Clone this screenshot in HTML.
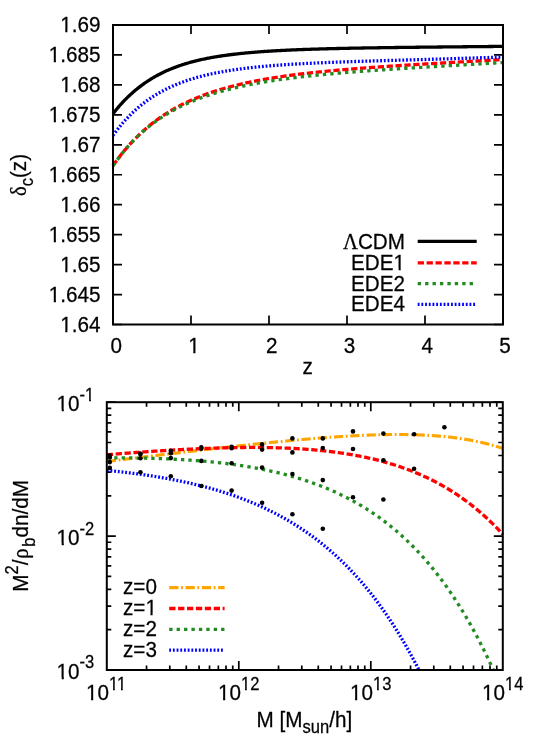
<!DOCTYPE html>
<html><head><meta charset="utf-8"><title>plot</title>
<style>
html,body{margin:0;padding:0;background:#fff;overflow:hidden;}
svg{display:block;will-change:transform;}
text{font-family:"Liberation Sans",sans-serif;font-size:21px;fill:#000;stroke:#000;stroke-width:0.25px;}
.s{font-size:16.8px;}
.sr{font-family:"Liberation Serif",serif;}
.ax{stroke:#000;stroke-width:2;fill:none;stroke-linecap:butt;}
.tk{stroke:#000;stroke-width:1.7;fill:none;}
.ln{fill:none;stroke-width:3.3;stroke-linecap:butt;stroke-linejoin:round;}
</style></head><body>
<svg width="538" height="754" viewBox="0 0 538 754">

<g id="top">
<path class="tk" d="M191.00,324.5v-9.0M191.00,25.0v9.0M269.00,324.5v-9.0M269.00,25.0v9.0M347.00,324.5v-9.0M347.00,25.0v9.0M425.00,324.5v-9.0M425.00,25.0v9.0M113.0,25.00h9.0M503.0,25.00h-9.0M113.0,54.95h9.0M503.0,54.95h-9.0M113.0,84.90h9.0M503.0,84.90h-9.0M113.0,114.85h9.0M503.0,114.85h-9.0M113.0,144.80h9.0M503.0,144.80h-9.0M113.0,174.75h9.0M503.0,174.75h-9.0M113.0,204.70h9.0M503.0,204.70h-9.0M113.0,234.65h9.0M503.0,234.65h-9.0M113.0,264.60h9.0M503.0,264.60h-9.0M113.0,294.55h9.0M503.0,294.55h-9.0M113.0,324.50h9.0M503.0,324.50h-9.0"/>
<path class="ln" stroke="#000" d="M113.00,113.68 L114.00,112.41 L115.00,111.16 L116.00,109.94 L117.00,108.74 L118.00,107.56 L119.00,106.40 L120.00,105.26 L121.00,104.15 L122.00,103.06 L123.00,101.98 L124.00,100.93 L125.00,99.90 L126.00,98.89 L127.00,97.89 L128.00,96.92 L129.00,95.96 L130.00,95.02 L131.00,94.10 L132.00,93.20 L133.00,92.31 L134.00,91.45 L135.00,90.59 L136.00,89.76 L137.00,88.94 L138.00,88.14 L139.00,87.35 L140.00,86.58 L141.00,85.82 L142.00,85.08 L143.00,84.35 L144.00,83.64 L145.00,82.94 L146.00,82.25 L147.00,81.58 L148.00,80.92 L149.00,80.28 L150.00,79.64 L151.00,79.02 L152.00,78.41 L153.00,77.82 L154.00,77.23 L155.00,76.66 L156.00,76.10 L157.00,75.55 L158.00,75.01 L159.00,74.48 L160.00,73.96 L161.00,73.46 L162.00,72.96 L163.00,72.47 L164.00,72.00 L165.00,71.53 L166.00,71.07 L167.00,70.62 L168.00,70.18 L169.00,69.75 L170.00,69.33 L171.00,68.91 L172.00,68.51 L173.00,68.11 L174.00,67.72 L175.00,67.34 L176.00,66.96 L177.00,66.60 L178.00,66.24 L179.00,65.89 L180.00,65.54 L181.00,65.20 L182.00,64.87 L183.00,64.55 L184.00,64.23 L185.00,63.92 L186.00,63.61 L187.00,63.31 L188.00,63.02 L189.00,62.73 L190.00,62.45 L191.00,62.18 L192.00,61.91 L193.00,61.64 L194.00,61.38 L195.00,61.13 L196.00,60.88 L197.00,60.63 L198.00,60.39 L199.00,60.16 L200.00,59.93 L201.00,59.70 L202.00,59.48 L203.00,59.26 L204.00,59.05 L205.00,58.84 L206.00,58.64 L207.00,58.43 L208.00,58.24 L209.00,58.05 L210.00,57.86 L211.00,57.67 L212.00,57.49 L213.00,57.31 L214.00,57.14 L215.00,56.96 L216.00,56.80 L217.00,56.63 L218.00,56.47 L219.00,56.31 L220.00,56.15 L221.00,56.00 L222.00,55.85 L223.00,55.70 L224.00,55.56 L225.00,55.42 L226.00,55.28 L227.00,55.14 L228.00,55.01 L229.00,54.88 L230.00,54.75 L231.00,54.62 L232.00,54.50 L233.00,54.38 L234.00,54.26 L235.00,54.14 L236.00,54.03 L237.00,53.91 L238.00,53.80 L239.00,53.69 L240.00,53.59 L241.00,53.48 L242.00,53.38 L243.00,53.28 L244.00,53.18 L245.00,53.08 L246.00,52.98 L247.00,52.89 L248.00,52.80 L249.00,52.71 L250.00,52.62 L251.00,52.53 L252.00,52.44 L253.00,52.36 L254.00,52.27 L255.00,52.19 L256.00,52.11 L257.00,52.03 L258.00,51.96 L259.00,51.88 L260.00,51.81 L261.00,51.73 L262.00,51.66 L263.00,51.59 L264.00,51.52 L265.00,51.45 L266.00,51.38 L267.00,51.32 L268.00,51.25 L269.00,51.19 L270.00,51.12 L271.00,51.06 L272.00,51.00 L273.00,50.94 L274.00,50.88 L275.00,50.82 L276.00,50.77 L277.00,50.71 L278.00,50.65 L279.00,50.60 L280.00,50.55 L281.00,50.49 L282.00,50.44 L283.00,50.39 L284.00,50.34 L285.00,50.29 L286.00,50.24 L287.00,50.20 L288.00,50.15 L289.00,50.10 L290.00,50.06 L291.00,50.01 L292.00,49.97 L293.00,49.92 L294.00,49.88 L295.00,49.84 L296.00,49.80 L297.00,49.76 L298.00,49.72 L299.00,49.68 L300.00,49.64 L301.00,49.60 L302.00,49.56 L303.00,49.52 L304.00,49.49 L305.00,49.45 L306.00,49.42 L307.00,49.38 L308.00,49.35 L309.00,49.31 L310.00,49.28 L311.00,49.24 L312.00,49.21 L313.00,49.18 L314.00,49.15 L315.00,49.12 L316.00,49.09 L317.00,49.06 L318.00,49.03 L319.00,49.00 L320.00,48.97 L321.00,48.94 L322.00,48.91 L323.00,48.88 L324.00,48.85 L325.00,48.83 L326.00,48.80 L327.00,48.77 L328.00,48.75 L329.00,48.72 L330.00,48.69 L331.00,48.67 L332.00,48.64 L333.00,48.62 L334.00,48.60 L335.00,48.57 L336.00,48.55 L337.00,48.52 L338.00,48.50 L339.00,48.48 L340.00,48.46 L341.00,48.43 L342.00,48.41 L343.00,48.39 L344.00,48.37 L345.00,48.35 L346.00,48.33 L347.00,48.30 L348.00,48.28 L349.00,48.26 L350.00,48.24 L351.00,48.22 L352.00,48.20 L353.00,48.19 L354.00,48.17 L355.00,48.15 L356.00,48.13 L357.00,48.11 L358.00,48.09 L359.00,48.07 L360.00,48.06 L361.00,48.04 L362.00,48.02 L363.00,48.00 L364.00,47.99 L365.00,47.97 L366.00,47.95 L367.00,47.93 L368.00,47.92 L369.00,47.90 L370.00,47.89 L371.00,47.87 L372.00,47.85 L373.00,47.84 L374.00,47.82 L375.00,47.81 L376.00,47.79 L377.00,47.78 L378.00,47.76 L379.00,47.75 L380.00,47.73 L381.00,47.72 L382.00,47.70 L383.00,47.69 L384.00,47.67 L385.00,47.66 L386.00,47.64 L387.00,47.63 L388.00,47.62 L389.00,47.60 L390.00,47.59 L391.00,47.58 L392.00,47.56 L393.00,47.55 L394.00,47.54 L395.00,47.52 L396.00,47.51 L397.00,47.50 L398.00,47.48 L399.00,47.47 L400.00,47.46 L401.00,47.45 L402.00,47.43 L403.00,47.42 L404.00,47.41 L405.00,47.40 L406.00,47.38 L407.00,47.37 L408.00,47.36 L409.00,47.35 L410.00,47.34 L411.00,47.32 L412.00,47.31 L413.00,47.30 L414.00,47.29 L415.00,47.28 L416.00,47.27 L417.00,47.25 L418.00,47.24 L419.00,47.23 L420.00,47.22 L421.00,47.21 L422.00,47.20 L423.00,47.19 L424.00,47.18 L425.00,47.16 L426.00,47.15 L427.00,47.14 L428.00,47.13 L429.00,47.12 L430.00,47.11 L431.00,47.10 L432.00,47.09 L433.00,47.08 L434.00,47.07 L435.00,47.06 L436.00,47.05 L437.00,47.03 L438.00,47.02 L439.00,47.01 L440.00,47.00 L441.00,46.99 L442.00,46.98 L443.00,46.97 L444.00,46.96 L445.00,46.95 L446.00,46.94 L447.00,46.93 L448.00,46.92 L449.00,46.91 L450.00,46.90 L451.00,46.89 L452.00,46.88 L453.00,46.87 L454.00,46.86 L455.00,46.85 L456.00,46.84 L457.00,46.83 L458.00,46.82 L459.00,46.81 L460.00,46.80 L461.00,46.79 L462.00,46.78 L463.00,46.77 L464.00,46.76 L465.00,46.75 L466.00,46.74 L467.00,46.73 L468.00,46.72 L469.00,46.71 L470.00,46.70 L471.00,46.69 L472.00,46.68 L473.00,46.67 L474.00,46.66 L475.00,46.65 L476.00,46.64 L477.00,46.63 L478.00,46.62 L479.00,46.61 L480.00,46.60 L481.00,46.59 L482.00,46.58 L483.00,46.57 L484.00,46.56 L485.00,46.56 L486.00,46.55 L487.00,46.54 L488.00,46.53 L489.00,46.52 L490.00,46.51 L491.00,46.50 L492.00,46.49 L493.00,46.48 L494.00,46.47 L495.00,46.46 L496.00,46.45 L497.00,46.44 L498.00,46.43 L499.00,46.42 L500.00,46.41 L501.00,46.40 L502.00,46.39 L503.00,46.38"/>
<path class="ln" stroke="#ff0000" stroke-dasharray="6.28 2.62" d="M113.00,165.65 L114.00,164.23 L115.00,162.83 L116.00,161.45 L117.00,160.09 L118.00,158.75 L119.00,157.43 L120.00,156.13 L121.00,154.85 L122.00,153.59 L123.00,152.35 L124.00,151.13 L125.00,149.93 L126.00,148.74 L127.00,147.58 L128.00,146.43 L129.00,145.30 L130.00,144.19 L131.00,143.09 L132.00,142.01 L133.00,140.95 L134.00,139.90 L135.00,138.87 L136.00,137.86 L137.00,136.86 L138.00,135.88 L139.00,134.91 L140.00,133.96 L141.00,133.02 L142.00,132.10 L143.00,131.19 L144.00,130.29 L145.00,129.41 L146.00,128.54 L147.00,127.69 L148.00,126.84 L149.00,126.01 L150.00,125.20 L151.00,124.39 L152.00,123.60 L153.00,122.82 L154.00,122.05 L155.00,121.29 L156.00,120.55 L157.00,119.81 L158.00,119.09 L159.00,118.37 L160.00,117.67 L161.00,116.98 L162.00,116.30 L163.00,115.63 L164.00,114.96 L165.00,114.31 L166.00,113.67 L167.00,113.04 L168.00,112.41 L169.00,111.80 L170.00,111.19 L171.00,110.59 L172.00,110.01 L173.00,109.43 L174.00,108.86 L175.00,108.29 L176.00,107.74 L177.00,107.19 L178.00,106.65 L179.00,106.12 L180.00,105.60 L181.00,105.08 L182.00,104.57 L183.00,104.07 L184.00,103.57 L185.00,103.09 L186.00,102.60 L187.00,102.13 L188.00,101.66 L189.00,101.20 L190.00,100.75 L191.00,100.30 L192.00,99.86 L193.00,99.42 L194.00,98.99 L195.00,98.57 L196.00,98.15 L197.00,97.74 L198.00,97.33 L199.00,96.93 L200.00,96.53 L201.00,96.14 L202.00,95.76 L203.00,95.38 L204.00,95.00 L205.00,94.63 L206.00,94.27 L207.00,93.91 L208.00,93.55 L209.00,93.20 L210.00,92.85 L211.00,92.51 L212.00,92.18 L213.00,91.84 L214.00,91.51 L215.00,91.19 L216.00,90.87 L217.00,90.56 L218.00,90.24 L219.00,89.94 L220.00,89.63 L221.00,89.33 L222.00,89.04 L223.00,88.75 L224.00,88.46 L225.00,88.17 L226.00,87.89 L227.00,87.62 L228.00,87.34 L229.00,87.07 L230.00,86.80 L231.00,86.54 L232.00,86.28 L233.00,86.02 L234.00,85.77 L235.00,85.52 L236.00,85.27 L237.00,85.02 L238.00,84.78 L239.00,84.54 L240.00,84.31 L241.00,84.08 L242.00,83.84 L243.00,83.62 L244.00,83.39 L245.00,83.17 L246.00,82.95 L247.00,82.73 L248.00,82.52 L249.00,82.31 L250.00,82.10 L251.00,81.89 L252.00,81.69 L253.00,81.48 L254.00,81.29 L255.00,81.09 L256.00,80.89 L257.00,80.70 L258.00,80.51 L259.00,80.32 L260.00,80.13 L261.00,79.95 L262.00,79.77 L263.00,79.59 L264.00,79.41 L265.00,79.23 L266.00,79.06 L267.00,78.89 L268.00,78.71 L269.00,78.55 L270.00,78.38 L271.00,78.21 L272.00,78.05 L273.00,77.89 L274.00,77.73 L275.00,77.57 L276.00,77.42 L277.00,77.26 L278.00,77.11 L279.00,76.96 L280.00,76.81 L281.00,76.66 L282.00,76.51 L283.00,76.37 L284.00,76.22 L285.00,76.08 L286.00,75.94 L287.00,75.80 L288.00,75.66 L289.00,75.52 L290.00,75.39 L291.00,75.26 L292.00,75.12 L293.00,74.99 L294.00,74.86 L295.00,74.73 L296.00,74.60 L297.00,74.48 L298.00,74.35 L299.00,74.23 L300.00,74.11 L301.00,73.98 L302.00,73.86 L303.00,73.74 L304.00,73.63 L305.00,73.51 L306.00,73.39 L307.00,73.28 L308.00,73.16 L309.00,73.05 L310.00,72.94 L311.00,72.83 L312.00,72.72 L313.00,72.61 L314.00,72.50 L315.00,72.39 L316.00,72.29 L317.00,72.18 L318.00,72.08 L319.00,71.97 L320.00,71.87 L321.00,71.77 L322.00,71.67 L323.00,71.57 L324.00,71.47 L325.00,71.37 L326.00,71.27 L327.00,71.17 L328.00,71.08 L329.00,70.98 L330.00,70.89 L331.00,70.79 L332.00,70.70 L333.00,70.61 L334.00,70.52 L335.00,70.42 L336.00,70.33 L337.00,70.24 L338.00,70.15 L339.00,70.07 L340.00,69.98 L341.00,69.89 L342.00,69.80 L343.00,69.72 L344.00,69.63 L345.00,69.55 L346.00,69.46 L347.00,69.38 L348.00,69.30 L349.00,69.21 L350.00,69.13 L351.00,69.05 L352.00,68.97 L353.00,68.89 L354.00,68.81 L355.00,68.73 L356.00,68.65 L357.00,68.57 L358.00,68.49 L359.00,68.41 L360.00,68.34 L361.00,68.26 L362.00,68.18 L363.00,68.11 L364.00,68.03 L365.00,67.96 L366.00,67.88 L367.00,67.81 L368.00,67.73 L369.00,67.66 L370.00,67.59 L371.00,67.52 L372.00,67.44 L373.00,67.37 L374.00,67.30 L375.00,67.23 L376.00,67.16 L377.00,67.09 L378.00,67.02 L379.00,66.95 L380.00,66.88 L381.00,66.81 L382.00,66.74 L383.00,66.67 L384.00,66.60 L385.00,66.54 L386.00,66.47 L387.00,66.40 L388.00,66.33 L389.00,66.27 L390.00,66.20 L391.00,66.13 L392.00,66.07 L393.00,66.00 L394.00,65.94 L395.00,65.87 L396.00,65.81 L397.00,65.74 L398.00,65.68 L399.00,65.61 L400.00,65.55 L401.00,65.48 L402.00,65.42 L403.00,65.36 L404.00,65.29 L405.00,65.23 L406.00,65.17 L407.00,65.11 L408.00,65.04 L409.00,64.98 L410.00,64.92 L411.00,64.86 L412.00,64.80 L413.00,64.73 L414.00,64.67 L415.00,64.61 L416.00,64.55 L417.00,64.49 L418.00,64.43 L419.00,64.37 L420.00,64.31 L421.00,64.25 L422.00,64.19 L423.00,64.13 L424.00,64.07 L425.00,64.01 L426.00,63.95 L427.00,63.89 L428.00,63.83 L429.00,63.77 L430.00,63.71 L431.00,63.65 L432.00,63.59 L433.00,63.53 L434.00,63.47 L435.00,63.42 L436.00,63.36 L437.00,63.30 L438.00,63.24 L439.00,63.18 L440.00,63.12 L441.00,63.06 L442.00,63.01 L443.00,62.95 L444.00,62.89 L445.00,62.83 L446.00,62.77 L447.00,62.72 L448.00,62.66 L449.00,62.60 L450.00,62.54 L451.00,62.49 L452.00,62.43 L453.00,62.37 L454.00,62.31 L455.00,62.26 L456.00,62.20 L457.00,62.14 L458.00,62.08 L459.00,62.03 L460.00,61.97 L461.00,61.91 L462.00,61.86 L463.00,61.80 L464.00,61.74 L465.00,61.68 L466.00,61.63 L467.00,61.57 L468.00,61.51 L469.00,61.46 L470.00,61.40 L471.00,61.34 L472.00,61.29 L473.00,61.23 L474.00,61.17 L475.00,61.11 L476.00,61.06 L477.00,61.00 L478.00,60.94 L479.00,60.89 L480.00,60.83 L481.00,60.77 L482.00,60.72 L483.00,60.66 L484.00,60.60 L485.00,60.54 L486.00,60.49 L487.00,60.43 L488.00,60.37 L489.00,60.32 L490.00,60.26 L491.00,60.20 L492.00,60.15 L493.00,60.09 L494.00,60.03 L495.00,59.97 L496.00,59.92 L497.00,59.86 L498.00,59.80 L499.00,59.74 L500.00,59.69 L501.00,59.63 L502.00,59.57 L503.00,59.51"/>
<path class="ln" stroke="#228b22" stroke-dasharray="3.32 4.10" d="M113.00,165.74 L114.00,164.30 L115.00,162.89 L116.00,161.50 L117.00,160.13 L118.00,158.79 L119.00,157.46 L120.00,156.16 L121.00,154.89 L122.00,153.63 L123.00,152.39 L124.00,151.18 L125.00,149.98 L126.00,148.81 L127.00,147.65 L128.00,146.51 L129.00,145.40 L130.00,144.30 L131.00,143.22 L132.00,142.15 L133.00,141.11 L134.00,140.08 L135.00,139.07 L136.00,138.07 L137.00,137.09 L138.00,136.13 L139.00,135.18 L140.00,134.25 L141.00,133.34 L142.00,132.43 L143.00,131.55 L144.00,130.67 L145.00,129.82 L146.00,128.97 L147.00,128.14 L148.00,127.32 L149.00,126.52 L150.00,125.72 L151.00,124.94 L152.00,124.18 L153.00,123.42 L154.00,122.68 L155.00,121.95 L156.00,121.22 L157.00,120.52 L158.00,119.82 L159.00,119.13 L160.00,118.45 L161.00,117.79 L162.00,117.13 L163.00,116.49 L164.00,115.85 L165.00,115.22 L166.00,114.61 L167.00,114.00 L168.00,113.40 L169.00,112.81 L170.00,112.23 L171.00,111.66 L172.00,111.10 L173.00,110.54 L174.00,110.00 L175.00,109.46 L176.00,108.93 L177.00,108.40 L178.00,107.89 L179.00,107.38 L180.00,106.88 L181.00,106.39 L182.00,105.91 L183.00,105.43 L184.00,104.96 L185.00,104.49 L186.00,104.03 L187.00,103.58 L188.00,103.14 L189.00,102.70 L190.00,102.27 L191.00,101.84 L192.00,101.42 L193.00,101.01 L194.00,100.60 L195.00,100.19 L196.00,99.80 L197.00,99.41 L198.00,99.02 L199.00,98.64 L200.00,98.26 L201.00,97.89 L202.00,97.53 L203.00,97.17 L204.00,96.81 L205.00,96.46 L206.00,96.12 L207.00,95.77 L208.00,95.44 L209.00,95.11 L210.00,94.78 L211.00,94.46 L212.00,94.14 L213.00,93.82 L214.00,93.51 L215.00,93.20 L216.00,92.90 L217.00,92.60 L218.00,92.31 L219.00,92.02 L220.00,91.73 L221.00,91.45 L222.00,91.17 L223.00,90.89 L224.00,90.62 L225.00,90.35 L226.00,90.09 L227.00,89.82 L228.00,89.56 L229.00,89.31 L230.00,89.06 L231.00,88.81 L232.00,88.56 L233.00,88.32 L234.00,88.08 L235.00,87.84 L236.00,87.61 L237.00,87.37 L238.00,87.15 L239.00,86.92 L240.00,86.70 L241.00,86.48 L242.00,86.26 L243.00,86.04 L244.00,85.83 L245.00,85.62 L246.00,85.41 L247.00,85.21 L248.00,85.01 L249.00,84.81 L250.00,84.61 L251.00,84.41 L252.00,84.22 L253.00,84.03 L254.00,83.84 L255.00,83.65 L256.00,83.47 L257.00,83.28 L258.00,83.10 L259.00,82.92 L260.00,82.75 L261.00,82.57 L262.00,82.40 L263.00,82.23 L264.00,82.06 L265.00,81.89 L266.00,81.73 L267.00,81.57 L268.00,81.40 L269.00,81.24 L270.00,81.09 L271.00,80.93 L272.00,80.77 L273.00,80.62 L274.00,80.47 L275.00,80.32 L276.00,80.17 L277.00,80.02 L278.00,79.88 L279.00,79.73 L280.00,79.59 L281.00,79.45 L282.00,79.31 L283.00,79.17 L284.00,79.04 L285.00,78.90 L286.00,78.77 L287.00,78.63 L288.00,78.50 L289.00,78.37 L290.00,78.24 L291.00,78.12 L292.00,77.99 L293.00,77.86 L294.00,77.74 L295.00,77.62 L296.00,77.50 L297.00,77.38 L298.00,77.26 L299.00,77.14 L300.00,77.02 L301.00,76.90 L302.00,76.79 L303.00,76.67 L304.00,76.56 L305.00,76.45 L306.00,76.34 L307.00,76.23 L308.00,76.12 L309.00,76.01 L310.00,75.90 L311.00,75.80 L312.00,75.69 L313.00,75.59 L314.00,75.48 L315.00,75.38 L316.00,75.28 L317.00,75.18 L318.00,75.07 L319.00,74.97 L320.00,74.88 L321.00,74.78 L322.00,74.68 L323.00,74.58 L324.00,74.49 L325.00,74.39 L326.00,74.30 L327.00,74.21 L328.00,74.11 L329.00,74.02 L330.00,73.93 L331.00,73.84 L332.00,73.75 L333.00,73.66 L334.00,73.57 L335.00,73.48 L336.00,73.39 L337.00,73.30 L338.00,73.22 L339.00,73.13 L340.00,73.05 L341.00,72.96 L342.00,72.88 L343.00,72.79 L344.00,72.71 L345.00,72.63 L346.00,72.55 L347.00,72.46 L348.00,72.38 L349.00,72.30 L350.00,72.22 L351.00,72.14 L352.00,72.06 L353.00,71.99 L354.00,71.91 L355.00,71.83 L356.00,71.75 L357.00,71.67 L358.00,71.60 L359.00,71.52 L360.00,71.45 L361.00,71.37 L362.00,71.30 L363.00,71.22 L364.00,71.15 L365.00,71.07 L366.00,71.00 L367.00,70.93 L368.00,70.86 L369.00,70.78 L370.00,70.71 L371.00,70.64 L372.00,70.57 L373.00,70.50 L374.00,70.43 L375.00,70.36 L376.00,70.29 L377.00,70.22 L378.00,70.15 L379.00,70.08 L380.00,70.01 L381.00,69.94 L382.00,69.87 L383.00,69.80 L384.00,69.74 L385.00,69.67 L386.00,69.60 L387.00,69.54 L388.00,69.47 L389.00,69.40 L390.00,69.34 L391.00,69.27 L392.00,69.20 L393.00,69.14 L394.00,69.07 L395.00,69.01 L396.00,68.94 L397.00,68.88 L398.00,68.81 L399.00,68.75 L400.00,68.69 L401.00,68.62 L402.00,68.56 L403.00,68.50 L404.00,68.43 L405.00,68.37 L406.00,68.31 L407.00,68.24 L408.00,68.18 L409.00,68.12 L410.00,68.06 L411.00,67.99 L412.00,67.93 L413.00,67.87 L414.00,67.81 L415.00,67.75 L416.00,67.68 L417.00,67.62 L418.00,67.56 L419.00,67.50 L420.00,67.44 L421.00,67.38 L422.00,67.32 L423.00,67.26 L424.00,67.20 L425.00,67.14 L426.00,67.08 L427.00,67.01 L428.00,66.95 L429.00,66.89 L430.00,66.83 L431.00,66.77 L432.00,66.71 L433.00,66.65 L434.00,66.59 L435.00,66.54 L436.00,66.48 L437.00,66.42 L438.00,66.36 L439.00,66.30 L440.00,66.24 L441.00,66.18 L442.00,66.12 L443.00,66.06 L444.00,66.00 L445.00,65.94 L446.00,65.88 L447.00,65.82 L448.00,65.76 L449.00,65.71 L450.00,65.65 L451.00,65.59 L452.00,65.53 L453.00,65.47 L454.00,65.41 L455.00,65.35 L456.00,65.29 L457.00,65.24 L458.00,65.18 L459.00,65.12 L460.00,65.06 L461.00,65.00 L462.00,64.94 L463.00,64.88 L464.00,64.82 L465.00,64.77 L466.00,64.71 L467.00,64.65 L468.00,64.59 L469.00,64.53 L470.00,64.47 L471.00,64.41 L472.00,64.36 L473.00,64.30 L474.00,64.24 L475.00,64.18 L476.00,64.12 L477.00,64.06 L478.00,64.00 L479.00,63.94 L480.00,63.89 L481.00,63.83 L482.00,63.77 L483.00,63.71 L484.00,63.65 L485.00,63.59 L486.00,63.53 L487.00,63.47 L488.00,63.41 L489.00,63.36 L490.00,63.30 L491.00,63.24 L492.00,63.18 L493.00,63.12 L494.00,63.06 L495.00,63.00 L496.00,62.94 L497.00,62.88 L498.00,62.82 L499.00,62.76 L500.00,62.70 L501.00,62.64 L502.00,62.58 L503.00,62.52"/>
<path class="ln" stroke="#0000ff" stroke-dasharray="1.83 1.87" d="M113.00,135.45 L114.00,134.07 L115.00,132.71 L116.00,131.39 L117.00,130.08 L118.00,128.80 L119.00,127.55 L120.00,126.32 L121.00,125.11 L122.00,123.93 L123.00,122.76 L124.00,121.62 L125.00,120.51 L126.00,119.41 L127.00,118.33 L128.00,117.28 L129.00,116.24 L130.00,115.23 L131.00,114.23 L132.00,113.26 L133.00,112.30 L134.00,111.36 L135.00,110.44 L136.00,109.54 L137.00,108.65 L138.00,107.78 L139.00,106.93 L140.00,106.09 L141.00,105.27 L142.00,104.47 L143.00,103.68 L144.00,102.91 L145.00,102.15 L146.00,101.41 L147.00,100.68 L148.00,99.96 L149.00,99.26 L150.00,98.58 L151.00,97.90 L152.00,97.24 L153.00,96.59 L154.00,95.95 L155.00,95.33 L156.00,94.72 L157.00,94.12 L158.00,93.53 L159.00,92.95 L160.00,92.38 L161.00,91.83 L162.00,91.28 L163.00,90.75 L164.00,90.22 L165.00,89.71 L166.00,89.20 L167.00,88.71 L168.00,88.22 L169.00,87.74 L170.00,87.27 L171.00,86.82 L172.00,86.36 L173.00,85.92 L174.00,85.49 L175.00,85.06 L176.00,84.64 L177.00,84.23 L178.00,83.83 L179.00,83.44 L180.00,83.05 L181.00,82.67 L182.00,82.30 L183.00,81.93 L184.00,81.57 L185.00,81.22 L186.00,80.87 L187.00,80.53 L188.00,80.19 L189.00,79.87 L190.00,79.54 L191.00,79.23 L192.00,78.92 L193.00,78.61 L194.00,78.31 L195.00,78.02 L196.00,77.73 L197.00,77.45 L198.00,77.17 L199.00,76.90 L200.00,76.63 L201.00,76.37 L202.00,76.11 L203.00,75.85 L204.00,75.60 L205.00,75.36 L206.00,75.12 L207.00,74.88 L208.00,74.65 L209.00,74.42 L210.00,74.19 L211.00,73.97 L212.00,73.76 L213.00,73.54 L214.00,73.34 L215.00,73.13 L216.00,72.93 L217.00,72.73 L218.00,72.53 L219.00,72.34 L220.00,72.15 L221.00,71.97 L222.00,71.79 L223.00,71.61 L224.00,71.43 L225.00,71.26 L226.00,71.09 L227.00,70.92 L228.00,70.76 L229.00,70.60 L230.00,70.44 L231.00,70.28 L232.00,70.13 L233.00,69.98 L234.00,69.83 L235.00,69.69 L236.00,69.54 L237.00,69.40 L238.00,69.26 L239.00,69.13 L240.00,68.99 L241.00,68.86 L242.00,68.73 L243.00,68.60 L244.00,68.48 L245.00,68.35 L246.00,68.23 L247.00,68.11 L248.00,67.99 L249.00,67.88 L250.00,67.76 L251.00,67.65 L252.00,67.54 L253.00,67.43 L254.00,67.33 L255.00,67.22 L256.00,67.12 L257.00,67.02 L258.00,66.92 L259.00,66.82 L260.00,66.72 L261.00,66.62 L262.00,66.53 L263.00,66.44 L264.00,66.34 L265.00,66.25 L266.00,66.17 L267.00,66.08 L268.00,65.99 L269.00,65.91 L270.00,65.82 L271.00,65.74 L272.00,65.66 L273.00,65.58 L274.00,65.50 L275.00,65.42 L276.00,65.35 L277.00,65.27 L278.00,65.20 L279.00,65.12 L280.00,65.05 L281.00,64.98 L282.00,64.91 L283.00,64.84 L284.00,64.77 L285.00,64.71 L286.00,64.64 L287.00,64.57 L288.00,64.51 L289.00,64.45 L290.00,64.38 L291.00,64.32 L292.00,64.26 L293.00,64.20 L294.00,64.14 L295.00,64.08 L296.00,64.02 L297.00,63.97 L298.00,63.91 L299.00,63.85 L300.00,63.80 L301.00,63.74 L302.00,63.69 L303.00,63.64 L304.00,63.59 L305.00,63.53 L306.00,63.48 L307.00,63.43 L308.00,63.38 L309.00,63.33 L310.00,63.28 L311.00,63.24 L312.00,63.19 L313.00,63.14 L314.00,63.09 L315.00,63.05 L316.00,63.00 L317.00,62.96 L318.00,62.91 L319.00,62.87 L320.00,62.82 L321.00,62.78 L322.00,62.74 L323.00,62.70 L324.00,62.65 L325.00,62.61 L326.00,62.57 L327.00,62.53 L328.00,62.49 L329.00,62.45 L330.00,62.41 L331.00,62.37 L332.00,62.33 L333.00,62.29 L334.00,62.26 L335.00,62.22 L336.00,62.18 L337.00,62.14 L338.00,62.11 L339.00,62.07 L340.00,62.03 L341.00,62.00 L342.00,61.96 L343.00,61.93 L344.00,61.89 L345.00,61.86 L346.00,61.82 L347.00,61.79 L348.00,61.75 L349.00,61.72 L350.00,61.69 L351.00,61.65 L352.00,61.62 L353.00,61.59 L354.00,61.55 L355.00,61.52 L356.00,61.49 L357.00,61.46 L358.00,61.42 L359.00,61.39 L360.00,61.36 L361.00,61.33 L362.00,61.30 L363.00,61.27 L364.00,61.24 L365.00,61.20 L366.00,61.17 L367.00,61.14 L368.00,61.11 L369.00,61.08 L370.00,61.05 L371.00,61.02 L372.00,60.99 L373.00,60.96 L374.00,60.93 L375.00,60.90 L376.00,60.87 L377.00,60.84 L378.00,60.81 L379.00,60.78 L380.00,60.76 L381.00,60.73 L382.00,60.70 L383.00,60.67 L384.00,60.64 L385.00,60.61 L386.00,60.58 L387.00,60.55 L388.00,60.52 L389.00,60.50 L390.00,60.47 L391.00,60.44 L392.00,60.41 L393.00,60.38 L394.00,60.35 L395.00,60.32 L396.00,60.30 L397.00,60.27 L398.00,60.24 L399.00,60.21 L400.00,60.18 L401.00,60.15 L402.00,60.13 L403.00,60.10 L404.00,60.07 L405.00,60.04 L406.00,60.01 L407.00,59.99 L408.00,59.96 L409.00,59.93 L410.00,59.90 L411.00,59.87 L412.00,59.84 L413.00,59.82 L414.00,59.79 L415.00,59.76 L416.00,59.73 L417.00,59.70 L418.00,59.67 L419.00,59.65 L420.00,59.62 L421.00,59.59 L422.00,59.56 L423.00,59.53 L424.00,59.50 L425.00,59.48 L426.00,59.45 L427.00,59.42 L428.00,59.39 L429.00,59.36 L430.00,59.33 L431.00,59.30 L432.00,59.27 L433.00,59.24 L434.00,59.22 L435.00,59.19 L436.00,59.16 L437.00,59.13 L438.00,59.10 L439.00,59.07 L440.00,59.04 L441.00,59.01 L442.00,58.98 L443.00,58.95 L444.00,58.92 L445.00,58.89 L446.00,58.86 L447.00,58.83 L448.00,58.80 L449.00,58.77 L450.00,58.74 L451.00,58.71 L452.00,58.68 L453.00,58.65 L454.00,58.62 L455.00,58.59 L456.00,58.56 L457.00,58.53 L458.00,58.50 L459.00,58.47 L460.00,58.44 L461.00,58.41 L462.00,58.37 L463.00,58.34 L464.00,58.31 L465.00,58.28 L466.00,58.25 L467.00,58.22 L468.00,58.19 L469.00,58.15 L470.00,58.12 L471.00,58.09 L472.00,58.06 L473.00,58.03 L474.00,57.99 L475.00,57.96 L476.00,57.93 L477.00,57.90 L478.00,57.86 L479.00,57.83 L480.00,57.80 L481.00,57.76 L482.00,57.73 L483.00,57.70 L484.00,57.66 L485.00,57.63 L486.00,57.60 L487.00,57.56 L488.00,57.53 L489.00,57.50 L490.00,57.46 L491.00,57.43 L492.00,57.39 L493.00,57.36 L494.00,57.32 L495.00,57.29 L496.00,57.25 L497.00,57.22 L498.00,57.18 L499.00,57.15 L500.00,57.11 L501.00,57.08 L502.00,57.04 L503.00,57.01"/>
<rect class="ax" x="113.0" y="25.0" width="390.0" height="299.5"/>
<text transform="translate(100.40,32.40) scale(0.985,1.05)" text-anchor="end">1.69</text>
<text transform="translate(100.40,62.35) scale(0.985,1.05)" text-anchor="end">1.685</text>
<text transform="translate(100.40,92.30) scale(0.985,1.05)" text-anchor="end">1.68</text>
<text transform="translate(100.40,122.25) scale(0.985,1.05)" text-anchor="end">1.675</text>
<text transform="translate(100.40,152.20) scale(0.985,1.05)" text-anchor="end">1.67</text>
<text transform="translate(100.40,182.15) scale(0.985,1.05)" text-anchor="end">1.665</text>
<text transform="translate(100.40,212.10) scale(0.985,1.05)" text-anchor="end">1.66</text>
<text transform="translate(100.40,242.05) scale(0.985,1.05)" text-anchor="end">1.655</text>
<text transform="translate(100.40,272.00) scale(0.985,1.05)" text-anchor="end">1.65</text>
<text transform="translate(100.40,301.95) scale(0.985,1.05)" text-anchor="end">1.645</text>
<text transform="translate(100.40,331.90) scale(0.985,1.05)" text-anchor="end">1.64</text>
<text transform="translate(116.20,352.80) scale(0.985,1.05)" text-anchor="middle">0</text>
<text transform="translate(193.95,352.80) scale(0.985,1.05)" text-anchor="middle">1</text>
<text transform="translate(271.70,352.80) scale(0.985,1.05)" text-anchor="middle">2</text>
<text transform="translate(349.45,352.80) scale(0.985,1.05)" text-anchor="middle">3</text>
<text transform="translate(427.20,352.80) scale(0.985,1.05)" text-anchor="middle">4</text>
<text transform="translate(504.95,352.80) scale(0.985,1.05)" text-anchor="middle">5</text>
<text transform="translate(307.70,373.70) scale(0.985,1.05)" text-anchor="middle">z</text>
<text transform="translate(26.40,196.10) rotate(-90) scale(0.985,1.05)"><tspan class="sr">δ</tspan><tspan class="s" dy="6.00">c</tspan><tspan dy="-6.00">(z)</tspan></text>
<text transform="translate(405.00,249.00) scale(0.985,1.05)" text-anchor="end"><tspan class="sr">Λ</tspan>CDM</text>
<text transform="translate(405.00,269.80) scale(0.985,1.05)" text-anchor="end">EDE1</text>
<text transform="translate(405.00,290.60) scale(0.985,1.05)" text-anchor="end">EDE2</text>
<text transform="translate(405.00,311.40) scale(0.985,1.05)" text-anchor="end">EDE4</text>
<path class="ln" stroke="#000" d="M417.7,241.4H476.7"/>
<path class="ln" stroke="#ff0000" stroke-dasharray="6.28 2.62" d="M417.7,262.8H476.7"/>
<path class="ln" stroke="#228b22" stroke-dasharray="3.32 4.10" d="M417.7,283.6H476.7"/>
<path class="ln" stroke="#0000ff" stroke-dasharray="1.83 1.87" d="M417.7,304.40000000000003H476.7"/>
</g>
<g id="bot">
<path class="tk" d="M146.54,670.0v-4.5M146.54,402.2v4.5M169.78,670.0v-4.5M169.78,402.2v4.5M186.27,670.0v-4.5M186.27,402.2v4.5M199.06,670.0v-4.5M199.06,402.2v4.5M209.52,670.0v-4.5M209.52,402.2v4.5M218.35,670.0v-4.5M218.35,402.2v4.5M226.01,670.0v-4.5M226.01,402.2v4.5M232.76,670.0v-4.5M232.76,402.2v4.5M238.80,670.0v-9.0M238.80,402.2v9.0M278.54,670.0v-4.5M278.54,402.2v4.5M301.78,670.0v-4.5M301.78,402.2v4.5M318.27,670.0v-4.5M318.27,402.2v4.5M331.06,670.0v-4.5M331.06,402.2v4.5M341.52,670.0v-4.5M341.52,402.2v4.5M350.35,670.0v-4.5M350.35,402.2v4.5M358.01,670.0v-4.5M358.01,402.2v4.5M364.76,670.0v-4.5M364.76,402.2v4.5M370.80,670.0v-9.0M370.80,402.2v9.0M410.54,670.0v-4.5M410.54,402.2v4.5M433.78,670.0v-4.5M433.78,402.2v4.5M450.27,670.0v-4.5M450.27,402.2v4.5M463.06,670.0v-4.5M463.06,402.2v4.5M473.52,670.0v-4.5M473.52,402.2v4.5M482.35,670.0v-4.5M482.35,402.2v4.5M490.01,670.0v-4.5M490.01,402.2v4.5M496.76,670.0v-4.5M496.76,402.2v4.5M106.8,670.00h9.0M502.8,670.00h-9.0M106.8,629.69h4.5M502.8,629.69h-4.5M106.8,606.11h4.5M502.8,606.11h-4.5M106.8,589.38h4.5M502.8,589.38h-4.5M106.8,576.41h4.5M502.8,576.41h-4.5M106.8,565.81h4.5M502.8,565.81h-4.5M106.8,556.84h4.5M502.8,556.84h-4.5M106.8,549.08h4.5M502.8,549.08h-4.5M106.8,542.23h4.5M502.8,542.23h-4.5M106.8,536.10h9.0M502.8,536.10h-9.0M106.8,495.79h4.5M502.8,495.79h-4.5M106.8,472.21h4.5M502.8,472.21h-4.5M106.8,455.48h4.5M502.8,455.48h-4.5M106.8,442.51h4.5M502.8,442.51h-4.5M106.8,431.91h4.5M502.8,431.91h-4.5M106.8,422.94h4.5M502.8,422.94h-4.5M106.8,415.18h4.5M502.8,415.18h-4.5M106.8,408.33h4.5M502.8,408.33h-4.5M106.8,402.2h9.0M502.8,402.2h-9.0"/>
<path class="ln" style="stroke-width:3.1" stroke="#ffa500" stroke-dasharray="9.25 2.62 1.83 2.62" d="M106.80,461.48 L107.80,461.36 L108.80,461.24 L109.80,461.11 L110.80,460.99 L111.80,460.87 L112.80,460.74 L113.80,460.62 L114.80,460.50 L115.80,460.37 L116.80,460.25 L117.80,460.13 L118.80,460.00 L119.80,459.88 L120.80,459.76 L121.80,459.63 L122.80,459.51 L123.80,459.39 L124.80,459.27 L125.80,459.14 L126.80,459.02 L127.80,458.90 L128.80,458.78 L129.80,458.65 L130.80,458.53 L131.80,458.41 L132.80,458.29 L133.80,458.16 L134.80,458.04 L135.80,457.92 L136.80,457.80 L137.80,457.68 L138.80,457.55 L139.80,457.43 L140.80,457.31 L141.80,457.19 L142.80,457.07 L143.80,456.94 L144.80,456.82 L145.80,456.70 L146.80,456.58 L147.80,456.46 L148.80,456.34 L149.80,456.22 L150.80,456.10 L151.80,455.97 L152.80,455.85 L153.80,455.73 L154.80,455.61 L155.80,455.49 L156.80,455.37 L157.80,455.25 L158.80,455.13 L159.80,455.01 L160.80,454.89 L161.80,454.77 L162.80,454.65 L163.80,454.53 L164.80,454.41 L165.80,454.29 L166.80,454.17 L167.80,454.05 L168.80,453.93 L169.80,453.81 L170.80,453.69 L171.80,453.57 L172.80,453.45 L173.80,453.33 L174.80,453.21 L175.80,453.09 L176.80,452.97 L177.80,452.86 L178.80,452.74 L179.80,452.62 L180.80,452.50 L181.80,452.38 L182.80,452.26 L183.80,452.15 L184.80,452.03 L185.80,451.91 L186.80,451.79 L187.80,451.67 L188.80,451.56 L189.80,451.44 L190.80,451.32 L191.80,451.21 L192.80,451.09 L193.80,450.97 L194.80,450.85 L195.80,450.74 L196.80,450.62 L197.80,450.50 L198.80,450.39 L199.80,450.27 L200.80,450.16 L201.80,450.04 L202.80,449.92 L203.80,449.81 L204.80,449.69 L205.80,449.58 L206.80,449.46 L207.80,449.35 L208.80,449.23 L209.80,449.12 L210.80,449.00 L211.80,448.89 L212.80,448.78 L213.80,448.66 L214.80,448.55 L215.80,448.43 L216.80,448.32 L217.80,448.21 L218.80,448.09 L219.80,447.98 L220.80,447.87 L221.80,447.76 L222.80,447.64 L223.80,447.53 L224.80,447.42 L225.80,447.31 L226.80,447.19 L227.80,447.08 L228.80,446.97 L229.80,446.86 L230.80,446.75 L231.80,446.64 L232.80,446.53 L233.80,446.42 L234.80,446.31 L235.80,446.20 L236.80,446.09 L237.80,445.98 L238.80,445.87 L239.80,445.76 L240.80,445.65 L241.80,445.54 L242.80,445.43 L243.80,445.33 L244.80,445.22 L245.80,445.11 L246.80,445.00 L247.80,444.90 L248.80,444.79 L249.80,444.68 L250.80,444.58 L251.80,444.47 L252.80,444.36 L253.80,444.26 L254.80,444.15 L255.80,444.05 L256.80,443.94 L257.80,443.84 L258.80,443.73 L259.80,443.63 L260.80,443.53 L261.80,443.42 L262.80,443.32 L263.80,443.22 L264.80,443.11 L265.80,443.01 L266.80,442.91 L267.80,442.81 L268.80,442.71 L269.80,442.60 L270.80,442.50 L271.80,442.40 L272.80,442.30 L273.80,442.20 L274.80,442.10 L275.80,442.01 L276.80,441.91 L277.80,441.81 L278.80,441.71 L279.80,441.61 L280.80,441.52 L281.80,441.42 L282.80,441.32 L283.80,441.23 L284.80,441.13 L285.80,441.04 L286.80,440.94 L287.80,440.85 L288.80,440.75 L289.80,440.66 L290.80,440.56 L291.80,440.47 L292.80,440.38 L293.80,440.29 L294.80,440.20 L295.80,440.10 L296.80,440.01 L297.80,439.92 L298.80,439.83 L299.80,439.74 L300.80,439.66 L301.80,439.57 L302.80,439.48 L303.80,439.39 L304.80,439.31 L305.80,439.22 L306.80,439.13 L307.80,439.05 L308.80,438.96 L309.80,438.88 L310.80,438.79 L311.80,438.71 L312.80,438.63 L313.80,438.55 L314.80,438.46 L315.80,438.38 L316.80,438.30 L317.80,438.22 L318.80,438.14 L319.80,438.06 L320.80,437.99 L321.80,437.91 L322.80,437.83 L323.80,437.76 L324.80,437.68 L325.80,437.60 L326.80,437.53 L327.80,437.46 L328.80,437.38 L329.80,437.31 L330.80,437.24 L331.80,437.17 L332.80,437.10 L333.80,437.03 L334.80,436.96 L335.80,436.89 L336.80,436.82 L337.80,436.76 L338.80,436.69 L339.80,436.62 L340.80,436.56 L341.80,436.50 L342.80,436.43 L343.80,436.37 L344.80,436.31 L345.80,436.25 L346.80,436.19 L347.80,436.13 L348.80,436.07 L349.80,436.02 L350.80,435.96 L351.80,435.90 L352.80,435.85 L353.80,435.80 L354.80,435.74 L355.80,435.69 L356.80,435.64 L357.80,435.59 L358.80,435.54 L359.80,435.49 L360.80,435.45 L361.80,435.40 L362.80,435.36 L363.80,435.31 L364.80,435.27 L365.80,435.23 L366.80,435.19 L367.80,435.15 L368.80,435.11 L369.80,435.07 L370.80,435.03 L371.80,435.00 L372.80,434.96 L373.80,434.93 L374.80,434.90 L375.80,434.87 L376.80,434.84 L377.80,434.81 L378.80,434.78 L379.80,434.76 L380.80,434.73 L381.80,434.71 L382.80,434.69 L383.80,434.66 L384.80,434.65 L385.80,434.63 L386.80,434.61 L387.80,434.59 L388.80,434.58 L389.80,434.57 L390.80,434.56 L391.80,434.55 L392.80,434.54 L393.80,434.53 L394.80,434.53 L395.80,434.52 L396.80,434.52 L397.80,434.52 L398.80,434.52 L399.80,434.52 L400.80,434.53 L401.80,434.53 L402.80,434.54 L403.80,434.55 L404.80,434.56 L405.80,434.57 L406.80,434.58 L407.80,434.60 L408.80,434.62 L409.80,434.64 L410.80,434.66 L411.80,434.68 L412.80,434.70 L413.80,434.73 L414.80,434.76 L415.80,434.79 L416.80,434.82 L417.80,434.86 L418.80,434.89 L419.80,434.93 L420.80,434.97 L421.80,435.01 L422.80,435.06 L423.80,435.11 L424.80,435.15 L425.80,435.21 L426.80,435.26 L427.80,435.31 L428.80,435.37 L429.80,435.43 L430.80,435.49 L431.80,435.56 L432.80,435.63 L433.80,435.70 L434.80,435.77 L435.80,435.84 L436.80,435.92 L437.80,436.00 L438.80,436.08 L439.80,436.16 L440.80,436.25 L441.80,436.34 L442.80,436.43 L443.80,436.53 L444.80,436.63 L445.80,436.73 L446.80,436.83 L447.80,436.94 L448.80,437.05 L449.80,437.16 L450.80,437.27 L451.80,437.39 L452.80,437.51 L453.80,437.64 L454.80,437.77 L455.80,437.90 L456.80,438.03 L457.80,438.17 L458.80,438.31 L459.80,438.45 L460.80,438.60 L461.80,438.75 L462.80,438.90 L463.80,439.06 L464.80,439.22 L465.80,439.38 L466.80,439.55 L467.80,439.72 L468.80,439.90 L469.80,440.08 L470.80,440.26 L471.80,440.45 L472.80,440.64 L473.80,440.83 L474.80,441.03 L475.80,441.23 L476.80,441.44 L477.80,441.65 L478.80,441.87 L479.80,442.08 L480.80,442.31 L481.80,442.54 L482.80,442.77 L483.80,443.00 L484.80,443.24 L485.80,443.49 L486.80,443.74 L487.80,444.00 L488.80,444.25 L489.80,444.52 L490.80,444.79 L491.80,445.06 L492.80,445.34 L493.80,445.63 L494.80,445.91 L495.80,446.21 L496.80,446.51 L497.80,446.81 L498.80,447.12 L499.80,447.44 L500.80,447.76 L501.80,448.09 L502.80,448.42"/>
<path class="ln" stroke="#ff0000" stroke-dasharray="6.28 2.62" d="M106.80,454.77 L107.80,454.68 L108.80,454.60 L109.80,454.52 L110.80,454.44 L111.80,454.36 L112.80,454.28 L113.80,454.20 L114.80,454.12 L115.80,454.04 L116.80,453.96 L117.80,453.88 L118.80,453.80 L119.80,453.72 L120.80,453.65 L121.80,453.57 L122.80,453.49 L123.80,453.41 L124.80,453.34 L125.80,453.26 L126.80,453.18 L127.80,453.11 L128.80,453.03 L129.80,452.96 L130.80,452.88 L131.80,452.81 L132.80,452.73 L133.80,452.66 L134.80,452.58 L135.80,452.51 L136.80,452.44 L137.80,452.36 L138.80,452.29 L139.80,452.22 L140.80,452.15 L141.80,452.08 L142.80,452.01 L143.80,451.93 L144.80,451.86 L145.80,451.79 L146.80,451.73 L147.80,451.66 L148.80,451.59 L149.80,451.52 L150.80,451.45 L151.80,451.38 L152.80,451.32 L153.80,451.25 L154.80,451.18 L155.80,451.12 L156.80,451.05 L157.80,450.99 L158.80,450.92 L159.80,450.86 L160.80,450.79 L161.80,450.73 L162.80,450.67 L163.80,450.60 L164.80,450.54 L165.80,450.48 L166.80,450.42 L167.80,450.36 L168.80,450.30 L169.80,450.24 L170.80,450.18 L171.80,450.12 L172.80,450.06 L173.80,450.00 L174.80,449.95 L175.80,449.89 L176.80,449.83 L177.80,449.78 L178.80,449.72 L179.80,449.67 L180.80,449.61 L181.80,449.56 L182.80,449.50 L183.80,449.45 L184.80,449.40 L185.80,449.35 L186.80,449.30 L187.80,449.25 L188.80,449.20 L189.80,449.15 L190.80,449.10 L191.80,449.05 L192.80,449.00 L193.80,448.95 L194.80,448.91 L195.80,448.86 L196.80,448.82 L197.80,448.77 L198.80,448.73 L199.80,448.68 L200.80,448.64 L201.80,448.60 L202.80,448.56 L203.80,448.52 L204.80,448.48 L205.80,448.44 L206.80,448.40 L207.80,448.36 L208.80,448.32 L209.80,448.28 L210.80,448.25 L211.80,448.21 L212.80,448.18 L213.80,448.14 L214.80,448.11 L215.80,448.08 L216.80,448.04 L217.80,448.01 L218.80,447.98 L219.80,447.95 L220.80,447.92 L221.80,447.90 L222.80,447.87 L223.80,447.84 L224.80,447.82 L225.80,447.79 L226.80,447.77 L227.80,447.74 L228.80,447.72 L229.80,447.70 L230.80,447.68 L231.80,447.66 L232.80,447.64 L233.80,447.62 L234.80,447.60 L235.80,447.59 L236.80,447.57 L237.80,447.55 L238.80,447.54 L239.80,447.53 L240.80,447.52 L241.80,447.50 L242.80,447.49 L243.80,447.49 L244.80,447.48 L245.80,447.47 L246.80,447.46 L247.80,447.46 L248.80,447.45 L249.80,447.45 L250.80,447.45 L251.80,447.45 L252.80,447.45 L253.80,447.45 L254.80,447.45 L255.80,447.45 L256.80,447.46 L257.80,447.46 L258.80,447.47 L259.80,447.47 L260.80,447.48 L261.80,447.49 L262.80,447.50 L263.80,447.51 L264.80,447.53 L265.80,447.54 L266.80,447.56 L267.80,447.57 L268.80,447.59 L269.80,447.61 L270.80,447.63 L271.80,447.65 L272.80,447.67 L273.80,447.70 L274.80,447.72 L275.80,447.75 L276.80,447.78 L277.80,447.81 L278.80,447.84 L279.80,447.87 L280.80,447.90 L281.80,447.94 L282.80,447.97 L283.80,448.01 L284.80,448.05 L285.80,448.09 L286.80,448.13 L287.80,448.17 L288.80,448.22 L289.80,448.26 L290.80,448.31 L291.80,448.36 L292.80,448.41 L293.80,448.46 L294.80,448.52 L295.80,448.57 L296.80,448.63 L297.80,448.69 L298.80,448.75 L299.80,448.81 L300.80,448.87 L301.80,448.94 L302.80,449.00 L303.80,449.07 L304.80,449.14 L305.80,449.21 L306.80,449.29 L307.80,449.36 L308.80,449.44 L309.80,449.52 L310.80,449.60 L311.80,449.68 L312.80,449.76 L313.80,449.85 L314.80,449.94 L315.80,450.03 L316.80,450.12 L317.80,450.21 L318.80,450.31 L319.80,450.41 L320.80,450.51 L321.80,450.61 L322.80,450.71 L323.80,450.82 L324.80,450.93 L325.80,451.04 L326.80,451.15 L327.80,451.26 L328.80,451.38 L329.80,451.50 L330.80,451.62 L331.80,451.74 L332.80,451.87 L333.80,451.99 L334.80,452.12 L335.80,452.26 L336.80,452.39 L337.80,452.53 L338.80,452.67 L339.80,452.81 L340.80,452.95 L341.80,453.10 L342.80,453.25 L343.80,453.40 L344.80,453.55 L345.80,453.71 L346.80,453.87 L347.80,454.03 L348.80,454.19 L349.80,454.36 L350.80,454.53 L351.80,454.70 L352.80,454.87 L353.80,455.05 L354.80,455.23 L355.80,455.42 L356.80,455.60 L357.80,455.79 L358.80,455.98 L359.80,456.18 L360.80,456.37 L361.80,456.57 L362.80,456.78 L363.80,456.98 L364.80,457.19 L365.80,457.41 L366.80,457.62 L367.80,457.84 L368.80,458.06 L369.80,458.29 L370.80,458.52 L371.80,458.75 L372.80,458.98 L373.80,459.22 L374.80,459.46 L375.80,459.71 L376.80,459.96 L377.80,460.21 L378.80,460.46 L379.80,460.72 L380.80,460.98 L381.80,461.25 L382.80,461.52 L383.80,461.79 L384.80,462.07 L385.80,462.35 L386.80,462.64 L387.80,462.92 L388.80,463.22 L389.80,463.51 L390.80,463.81 L391.80,464.12 L392.80,464.42 L393.80,464.73 L394.80,465.05 L395.80,465.37 L396.80,465.69 L397.80,466.02 L398.80,466.36 L399.80,466.69 L400.80,467.03 L401.80,467.38 L402.80,467.73 L403.80,468.08 L404.80,468.44 L405.80,468.80 L406.80,469.17 L407.80,469.55 L408.80,469.92 L409.80,470.30 L410.80,470.69 L411.80,471.08 L412.80,471.48 L413.80,471.88 L414.80,472.29 L415.80,472.70 L416.80,473.11 L417.80,473.53 L418.80,473.96 L419.80,474.39 L420.80,474.83 L421.80,475.27 L422.80,475.72 L423.80,476.17 L424.80,476.63 L425.80,477.09 L426.80,477.56 L427.80,478.03 L428.80,478.51 L429.80,479.00 L430.80,479.49 L431.80,479.99 L432.80,480.49 L433.80,481.00 L434.80,481.52 L435.80,482.04 L436.80,482.56 L437.80,483.10 L438.80,483.64 L439.80,484.18 L440.80,484.73 L441.80,485.29 L442.80,485.86 L443.80,486.43 L444.80,487.01 L445.80,487.59 L446.80,488.18 L447.80,488.78 L448.80,489.39 L449.80,490.00 L450.80,490.62 L451.80,491.24 L452.80,491.88 L453.80,492.52 L454.80,493.16 L455.80,493.82 L456.80,494.48 L457.80,495.15 L458.80,495.83 L459.80,496.51 L460.80,497.21 L461.80,497.91 L462.80,498.61 L463.80,499.33 L464.80,500.05 L465.80,500.79 L466.80,501.53 L467.80,502.27 L468.80,503.03 L469.80,503.79 L470.80,504.57 L471.80,505.35 L472.80,506.14 L473.80,506.94 L474.80,507.75 L475.80,508.56 L476.80,509.39 L477.80,510.22 L478.80,511.07 L479.80,511.92 L480.80,512.78 L481.80,513.65 L482.80,514.54 L483.80,515.43 L484.80,516.33 L485.80,517.24 L486.80,518.16 L487.80,519.09 L488.80,520.03 L489.80,520.98 L490.80,521.94 L491.80,522.91 L492.80,523.89 L493.80,524.88 L494.80,525.88 L495.80,526.90 L496.80,527.92 L497.80,528.96 L498.80,530.00 L499.80,531.06 L500.80,532.13 L501.80,533.21 L502.80,534.30"/>
<path class="ln" stroke="#228b22" stroke-dasharray="3.32 4.10" d="M106.80,457.87 L107.80,457.87 L108.80,457.86 L109.80,457.86 L110.80,457.86 L111.80,457.86 L112.80,457.86 L113.80,457.86 L114.80,457.86 L115.80,457.86 L116.80,457.86 L117.80,457.86 L118.80,457.86 L119.80,457.87 L120.80,457.87 L121.80,457.88 L122.80,457.88 L123.80,457.89 L124.80,457.89 L125.80,457.90 L126.80,457.91 L127.80,457.92 L128.80,457.93 L129.80,457.94 L130.80,457.95 L131.80,457.96 L132.80,457.97 L133.80,457.99 L134.80,458.00 L135.80,458.02 L136.80,458.03 L137.80,458.05 L138.80,458.06 L139.80,458.08 L140.80,458.10 L141.80,458.12 L142.80,458.14 L143.80,458.16 L144.80,458.18 L145.80,458.21 L146.80,458.23 L147.80,458.25 L148.80,458.28 L149.80,458.30 L150.80,458.33 L151.80,458.36 L152.80,458.39 L153.80,458.42 L154.80,458.45 L155.80,458.48 L156.80,458.51 L157.80,458.54 L158.80,458.58 L159.80,458.61 L160.80,458.65 L161.80,458.69 L162.80,458.72 L163.80,458.76 L164.80,458.80 L165.80,458.84 L166.80,458.89 L167.80,458.93 L168.80,458.97 L169.80,459.02 L170.80,459.06 L171.80,459.11 L172.80,459.16 L173.80,459.21 L174.80,459.26 L175.80,459.31 L176.80,459.36 L177.80,459.41 L178.80,459.47 L179.80,459.52 L180.80,459.58 L181.80,459.64 L182.80,459.70 L183.80,459.76 L184.80,459.82 L185.80,459.88 L186.80,459.95 L187.80,460.01 L188.80,460.08 L189.80,460.15 L190.80,460.21 L191.80,460.28 L192.80,460.36 L193.80,460.43 L194.80,460.50 L195.80,460.58 L196.80,460.65 L197.80,460.73 L198.80,460.81 L199.80,460.89 L200.80,460.97 L201.80,461.06 L202.80,461.14 L203.80,461.23 L204.80,461.32 L205.80,461.41 L206.80,461.50 L207.80,461.59 L208.80,461.68 L209.80,461.78 L210.80,461.87 L211.80,461.97 L212.80,462.07 L213.80,462.17 L214.80,462.27 L215.80,462.38 L216.80,462.48 L217.80,462.59 L218.80,462.70 L219.80,462.81 L220.80,462.92 L221.80,463.04 L222.80,463.15 L223.80,463.27 L224.80,463.39 L225.80,463.51 L226.80,463.64 L227.80,463.76 L228.80,463.89 L229.80,464.01 L230.80,464.14 L231.80,464.28 L232.80,464.41 L233.80,464.54 L234.80,464.68 L235.80,464.82 L236.80,464.96 L237.80,465.11 L238.80,465.25 L239.80,465.40 L240.80,465.55 L241.80,465.70 L242.80,465.85 L243.80,466.01 L244.80,466.16 L245.80,466.32 L246.80,466.48 L247.80,466.65 L248.80,466.81 L249.80,466.98 L250.80,467.15 L251.80,467.32 L252.80,467.50 L253.80,467.67 L254.80,467.85 L255.80,468.03 L256.80,468.22 L257.80,468.40 L258.80,468.59 L259.80,468.78 L260.80,468.98 L261.80,469.17 L262.80,469.37 L263.80,469.57 L264.80,469.77 L265.80,469.98 L266.80,470.19 L267.80,470.40 L268.80,470.61 L269.80,470.83 L270.80,471.05 L271.80,471.27 L272.80,471.49 L273.80,471.72 L274.80,471.95 L275.80,472.18 L276.80,472.41 L277.80,472.65 L278.80,472.89 L279.80,473.14 L280.80,473.38 L281.80,473.63 L282.80,473.88 L283.80,474.14 L284.80,474.40 L285.80,474.66 L286.80,474.92 L287.80,475.19 L288.80,475.46 L289.80,475.73 L290.80,476.01 L291.80,476.29 L292.80,476.57 L293.80,476.86 L294.80,477.15 L295.80,477.44 L296.80,477.74 L297.80,478.04 L298.80,478.34 L299.80,478.65 L300.80,478.96 L301.80,479.28 L302.80,479.59 L303.80,479.91 L304.80,480.24 L305.80,480.57 L306.80,480.90 L307.80,481.24 L308.80,481.57 L309.80,481.92 L310.80,482.27 L311.80,482.62 L312.80,482.97 L313.80,483.33 L314.80,483.69 L315.80,484.06 L316.80,484.43 L317.80,484.81 L318.80,485.19 L319.80,485.57 L320.80,485.96 L321.80,486.35 L322.80,486.74 L323.80,487.15 L324.80,487.55 L325.80,487.96 L326.80,488.37 L327.80,488.79 L328.80,489.21 L329.80,489.64 L330.80,490.07 L331.80,490.51 L332.80,490.95 L333.80,491.40 L334.80,491.85 L335.80,492.30 L336.80,492.77 L337.80,493.23 L338.80,493.70 L339.80,494.18 L340.80,494.66 L341.80,495.14 L342.80,495.63 L343.80,496.13 L344.80,496.63 L345.80,497.14 L346.80,497.65 L347.80,498.17 L348.80,498.69 L349.80,499.22 L350.80,499.75 L351.80,500.29 L352.80,500.84 L353.80,501.39 L354.80,501.95 L355.80,502.51 L356.80,503.08 L357.80,503.65 L358.80,504.24 L359.80,504.82 L360.80,505.41 L361.80,506.01 L362.80,506.62 L363.80,507.23 L364.80,507.85 L365.80,508.47 L366.80,509.10 L367.80,509.74 L368.80,510.38 L369.80,511.04 L370.80,511.69 L371.80,512.36 L372.80,513.03 L373.80,513.71 L374.80,514.39 L375.80,515.08 L376.80,515.78 L377.80,516.49 L378.80,517.20 L379.80,517.92 L380.80,518.65 L381.80,519.38 L382.80,520.13 L383.80,520.88 L384.80,521.64 L385.80,522.40 L386.80,523.18 L387.80,523.96 L388.80,524.75 L389.80,525.54 L390.80,526.35 L391.80,527.16 L392.80,527.99 L393.80,528.82 L394.80,529.66 L395.80,530.50 L396.80,531.36 L397.80,532.22 L398.80,533.10 L399.80,533.98 L400.80,534.87 L401.80,535.77 L402.80,536.68 L403.80,537.60 L404.80,538.52 L405.80,539.46 L406.80,540.41 L407.80,541.36 L408.80,542.33 L409.80,543.30 L410.80,544.29 L411.80,545.28 L412.80,546.28 L413.80,547.30 L414.80,548.32 L415.80,549.36 L416.80,550.40 L417.80,551.46 L418.80,552.52 L419.80,553.60 L420.80,554.69 L421.80,555.79 L422.80,556.89 L423.80,558.01 L424.80,559.15 L425.80,560.29 L426.80,561.44 L427.80,562.61 L428.80,563.78 L429.80,564.97 L430.80,566.17 L431.80,567.38 L432.80,568.61 L433.80,569.84 L434.80,571.09 L435.80,572.35 L436.80,573.62 L437.80,574.91 L438.80,576.21 L439.80,577.52 L440.80,578.84 L441.80,580.18 L442.80,581.53 L443.80,582.89 L444.80,584.27 L445.80,585.66 L446.80,587.06 L447.80,588.48 L448.80,589.91 L449.80,591.36 L450.80,592.82 L451.80,594.29 L452.80,595.78 L453.80,597.28 L454.80,598.80 L455.80,600.33 L456.80,601.88 L457.80,603.44 L458.80,605.02 L459.80,606.61 L460.80,608.22 L461.80,609.85 L462.80,611.49 L463.80,613.14 L464.80,614.82 L465.80,616.51 L466.80,618.21 L467.80,619.93 L468.80,621.67 L469.80,623.43 L470.80,625.20 L471.80,626.99 L472.80,628.80 L473.80,630.62 L474.80,632.46 L475.80,634.32 L476.80,636.20 L477.80,638.10 L478.80,640.01 L479.80,641.95 L480.80,643.90 L481.80,645.87 L482.80,647.86 L483.80,649.87 L484.80,651.90 L485.80,653.95 L486.80,656.02 L487.80,658.11 L488.80,660.22 L489.80,662.34 L490.80,664.49 L491.80,666.67 L492.80,668.86 L493.32,670.00"/>
<path class="ln" stroke="#0000ff" stroke-dasharray="1.83 1.87" d="M106.80,470.35 L107.80,470.45 L108.80,470.55 L109.80,470.65 L110.80,470.75 L111.80,470.85 L112.80,470.96 L113.80,471.06 L114.80,471.17 L115.80,471.27 L116.80,471.38 L117.80,471.49 L118.80,471.60 L119.80,471.71 L120.80,471.82 L121.80,471.94 L122.80,472.05 L123.80,472.17 L124.80,472.28 L125.80,472.40 L126.80,472.52 L127.80,472.64 L128.80,472.77 L129.80,472.89 L130.80,473.01 L131.80,473.14 L132.80,473.27 L133.80,473.40 L134.80,473.53 L135.80,473.66 L136.80,473.79 L137.80,473.92 L138.80,474.06 L139.80,474.20 L140.80,474.34 L141.80,474.47 L142.80,474.62 L143.80,474.76 L144.80,474.90 L145.80,475.05 L146.80,475.20 L147.80,475.34 L148.80,475.49 L149.80,475.65 L150.80,475.80 L151.80,475.95 L152.80,476.11 L153.80,476.27 L154.80,476.43 L155.80,476.59 L156.80,476.75 L157.80,476.92 L158.80,477.08 L159.80,477.25 L160.80,477.42 L161.80,477.59 L162.80,477.77 L163.80,477.94 L164.80,478.12 L165.80,478.30 L166.80,478.48 L167.80,478.66 L168.80,478.84 L169.80,479.03 L170.80,479.21 L171.80,479.40 L172.80,479.59 L173.80,479.79 L174.80,479.98 L175.80,480.18 L176.80,480.38 L177.80,480.58 L178.80,480.78 L179.80,480.99 L180.80,481.20 L181.80,481.40 L182.80,481.62 L183.80,481.83 L184.80,482.04 L185.80,482.26 L186.80,482.48 L187.80,482.70 L188.80,482.93 L189.80,483.15 L190.80,483.38 L191.80,483.61 L192.80,483.85 L193.80,484.08 L194.80,484.32 L195.80,484.56 L196.80,484.80 L197.80,485.05 L198.80,485.29 L199.80,485.54 L200.80,485.80 L201.80,486.05 L202.80,486.31 L203.80,486.57 L204.80,486.83 L205.80,487.10 L206.80,487.36 L207.80,487.63 L208.80,487.90 L209.80,488.18 L210.80,488.46 L211.80,488.74 L212.80,489.02 L213.80,489.31 L214.80,489.60 L215.80,489.89 L216.80,490.18 L217.80,490.48 L218.80,490.78 L219.80,491.08 L220.80,491.39 L221.80,491.70 L222.80,492.01 L223.80,492.33 L224.80,492.65 L225.80,492.97 L226.80,493.29 L227.80,493.62 L228.80,493.95 L229.80,494.28 L230.80,494.62 L231.80,494.96 L232.80,495.31 L233.80,495.65 L234.80,496.00 L235.80,496.36 L236.80,496.71 L237.80,497.07 L238.80,497.44 L239.80,497.81 L240.80,498.18 L241.80,498.55 L242.80,498.93 L243.80,499.31 L244.80,499.70 L245.80,500.09 L246.80,500.48 L247.80,500.88 L248.80,501.28 L249.80,501.68 L250.80,502.09 L251.80,502.50 L252.80,502.92 L253.80,503.34 L254.80,503.76 L255.80,504.19 L256.80,504.62 L257.80,505.06 L258.80,505.50 L259.80,505.95 L260.80,506.39 L261.80,506.85 L262.80,507.31 L263.80,507.77 L264.80,508.23 L265.80,508.70 L266.80,509.18 L267.80,509.66 L268.80,510.14 L269.80,510.63 L270.80,511.13 L271.80,511.63 L272.80,512.13 L273.80,512.64 L274.80,513.15 L275.80,513.67 L276.80,514.19 L277.80,514.72 L278.80,515.25 L279.80,515.79 L280.80,516.33 L281.80,516.88 L282.80,517.43 L283.80,517.99 L284.80,518.55 L285.80,519.12 L286.80,519.70 L287.80,520.28 L288.80,520.86 L289.80,521.45 L290.80,522.05 L291.80,522.65 L292.80,523.26 L293.80,523.87 L294.80,524.49 L295.80,525.11 L296.80,525.74 L297.80,526.38 L298.80,527.02 L299.80,527.67 L300.80,528.33 L301.80,528.99 L302.80,529.66 L303.80,530.33 L304.80,531.01 L305.80,531.70 L306.80,532.39 L307.80,533.09 L308.80,533.80 L309.80,534.51 L310.80,535.23 L311.80,535.95 L312.80,536.69 L313.80,537.43 L314.80,538.17 L315.80,538.93 L316.80,539.69 L317.80,540.46 L318.80,541.23 L319.80,542.01 L320.80,542.80 L321.80,543.60 L322.80,544.41 L323.80,545.22 L324.80,546.04 L325.80,546.87 L326.80,547.70 L327.80,548.55 L328.80,549.40 L329.80,550.26 L330.80,551.12 L331.80,552.00 L332.80,552.88 L333.80,553.77 L334.80,554.67 L335.80,555.58 L336.80,556.50 L337.80,557.42 L338.80,558.36 L339.80,559.30 L340.80,560.25 L341.80,561.21 L342.80,562.18 L343.80,563.16 L344.80,564.15 L345.80,565.15 L346.80,566.16 L347.80,567.17 L348.80,568.20 L349.80,569.23 L350.80,570.28 L351.80,571.33 L352.80,572.40 L353.80,573.47 L354.80,574.55 L355.80,575.65 L356.80,576.75 L357.80,577.87 L358.80,578.99 L359.80,580.13 L360.80,581.27 L361.80,582.43 L362.80,583.60 L363.80,584.78 L364.80,585.97 L365.80,587.17 L366.80,588.38 L367.80,589.60 L368.80,590.84 L369.80,592.09 L370.80,593.34 L371.80,594.61 L372.80,595.89 L373.80,597.19 L374.80,598.49 L375.80,599.81 L376.80,601.14 L377.80,602.48 L378.80,603.84 L379.80,605.20 L380.80,606.58 L381.80,607.98 L382.80,609.38 L383.80,610.80 L384.80,612.23 L385.80,613.68 L386.80,615.14 L387.80,616.61 L388.80,618.09 L389.80,619.59 L390.80,621.11 L391.80,622.64 L392.80,624.18 L393.80,625.73 L394.80,627.30 L395.80,628.89 L396.80,630.49 L397.80,632.10 L398.80,633.73 L399.80,635.38 L400.80,637.04 L401.80,638.72 L402.80,640.41 L403.80,642.11 L404.80,643.84 L405.80,645.57 L406.80,647.33 L407.80,649.10 L408.80,650.89 L409.80,652.69 L410.80,654.51 L411.80,656.35 L412.80,658.21 L413.80,660.08 L414.80,661.97 L415.80,663.87 L416.80,665.80 L417.80,667.74 L418.80,669.70 L418.95,670.00"/>
<rect class="ax" x="106.8" y="402.2" width="396.00" height="267.80"/>
<circle cx="109.8" cy="455.6" r="2.3"/>
<circle cx="109.8" cy="457.5" r="2.3"/>
<circle cx="109.8" cy="462.1" r="2.3"/>
<circle cx="109.8" cy="467.9" r="2.3"/>
<circle cx="140.4" cy="453.7" r="2.3"/>
<circle cx="140.4" cy="453.9" r="2.3"/>
<circle cx="140.4" cy="458.2" r="2.3"/>
<circle cx="140.4" cy="472.3" r="2.3"/>
<circle cx="170.8" cy="450.7" r="2.3"/>
<circle cx="170.8" cy="453.3" r="2.3"/>
<circle cx="170.8" cy="458.1" r="2.3"/>
<circle cx="170.8" cy="476.2" r="2.3"/>
<circle cx="201.3" cy="447.3" r="2.3"/>
<circle cx="201.3" cy="448.8" r="2.3"/>
<circle cx="201.3" cy="460.9" r="2.3"/>
<circle cx="201.3" cy="486.0" r="2.3"/>
<circle cx="231.6" cy="446.8" r="2.3"/>
<circle cx="231.6" cy="448.3" r="2.3"/>
<circle cx="231.6" cy="463.3" r="2.3"/>
<circle cx="231.6" cy="490.6" r="2.3"/>
<circle cx="262.1" cy="444.4" r="2.3"/>
<circle cx="262.1" cy="449.6" r="2.3"/>
<circle cx="262.1" cy="467.6" r="2.3"/>
<circle cx="262.1" cy="502.8" r="2.3"/>
<circle cx="292.4" cy="438.4" r="2.3"/>
<circle cx="292.4" cy="452.4" r="2.3"/>
<circle cx="292.4" cy="474.1" r="2.3"/>
<circle cx="292.4" cy="514.2" r="2.3"/>
<circle cx="322.8" cy="438.4" r="2.3"/>
<circle cx="322.8" cy="448.1" r="2.3"/>
<circle cx="322.8" cy="480.1" r="2.3"/>
<circle cx="322.8" cy="528.7" r="2.3"/>
<circle cx="353.0" cy="431.4" r="2.3"/>
<circle cx="353.0" cy="449.0" r="2.3"/>
<circle cx="353.0" cy="497.2" r="2.3"/>
<circle cx="383.4" cy="433.6" r="2.3"/>
<circle cx="383.4" cy="460.2" r="2.3"/>
<circle cx="383.4" cy="499.5" r="2.3"/>
<circle cx="414.1" cy="434.3" r="2.3"/>
<circle cx="414.1" cy="468.7" r="2.3"/>
<circle cx="444.4" cy="427.3" r="2.3"/>
<text transform="translate(94.30,411.00) scale(0.985,1.05)" text-anchor="end">10<tspan class="s" dy="-9.90">-1</tspan></text>
<text transform="translate(94.30,544.90) scale(0.985,1.05)" text-anchor="end">10<tspan class="s" dy="-9.90">-2</tspan></text>
<text transform="translate(94.30,678.80) scale(0.985,1.05)" text-anchor="end">10<tspan class="s" dy="-9.90">-3</tspan></text>
<text transform="translate(86.00,700.10) scale(0.985,1.05)">10<tspan class="s" dy="-9.52">11</tspan></text>
<text transform="translate(218.00,700.10) scale(0.985,1.05)">10<tspan class="s" dy="-9.52">12</tspan></text>
<text transform="translate(350.00,700.10) scale(0.985,1.05)">10<tspan class="s" dy="-9.52">13</tspan></text>
<text transform="translate(482.00,700.10) scale(0.985,1.05)">10<tspan class="s" dy="-9.52">14</tspan></text>
<text transform="translate(256.60,726.60) scale(0.985,1.05)">M [M<tspan class="s" dy="6.19">sun</tspan><tspan dy="-6.19">/h]</tspan></text>
<text transform="translate(28.20,591.80) rotate(-90) scale(0.985,1.05)">M<tspan class="s" dy="-9.90">2</tspan><tspan dy="9.90">/</tspan><tspan class="sr" dx="0.9">ρ</tspan><tspan dx="1.7" class="s" dy="6.00">b</tspan><tspan dy="-6.00">dn/dM</tspan></text>
<text transform="translate(156.90,594.30) scale(0.985,1.05)" text-anchor="end">z=0</text>
<text transform="translate(156.90,615.10) scale(0.985,1.05)" text-anchor="end">z=1</text>
<text transform="translate(156.90,635.90) scale(0.985,1.05)" text-anchor="end">z=2</text>
<text transform="translate(156.90,656.70) scale(0.985,1.05)" text-anchor="end">z=3</text>
<path class="ln" stroke="#ffa500" stroke-dasharray="9.25 2.62 1.83 2.62" d="M169.2,587.70H224.6"/>
<path class="ln" stroke="#ff0000" stroke-dasharray="6.28 2.62" d="M169.2,608.50H224.6"/>
<path class="ln" stroke="#228b22" stroke-dasharray="3.32 4.10" d="M169.2,629.30H224.6"/>
<path class="ln" stroke="#0000ff" stroke-dasharray="1.83 1.87" d="M169.2,650.10H224.6"/>
</g>
<g fill="#fff"><rect x="61.00" y="30.00" width="4.25" height="3.00"/><rect x="67.40" y="30.00" width="3.60" height="3.00"/><rect x="50.00" y="60.00" width="3.76" height="3.00"/><rect x="55.91" y="60.00" width="4.09" height="3.00"/><rect x="61.00" y="90.00" width="4.25" height="3.00"/><rect x="67.40" y="90.00" width="3.60" height="3.00"/><rect x="50.00" y="120.00" width="3.76" height="3.00"/><rect x="55.91" y="120.00" width="4.09" height="3.00"/><rect x="61.00" y="150.00" width="4.25" height="3.00"/><rect x="67.40" y="150.00" width="3.60" height="3.00"/><rect x="50.00" y="180.00" width="3.76" height="3.00"/><rect x="55.91" y="180.00" width="4.09" height="3.00"/><rect x="61.00" y="210.00" width="4.25" height="3.00"/><rect x="67.40" y="210.00" width="3.60" height="3.00"/><rect x="50.00" y="240.00" width="3.76" height="3.00"/><rect x="55.91" y="240.00" width="4.09" height="3.00"/><rect x="61.00" y="270.00" width="4.25" height="3.00"/><rect x="67.40" y="270.00" width="3.60" height="3.00"/><rect x="50.00" y="300.00" width="3.76" height="3.00"/><rect x="55.91" y="300.00" width="4.09" height="3.00"/><rect x="61.00" y="330.00" width="4.25" height="3.00"/><rect x="67.40" y="330.00" width="3.60" height="3.00"/><rect x="189.00" y="351.00" width="4.28" height="3.00"/><rect x="195.43" y="351.00" width="3.57" height="3.00"/><rect x="394.00" y="268.00" width="4.56" height="3.00"/><rect x="400.71" y="268.00" width="4.29" height="3.00"/><rect x="57.00" y="409.00" width="4.68" height="3.00"/><rect x="63.82" y="409.00" width="4.18" height="3.00"/><rect x="86.00" y="399.00" width="3.13" height="3.00"/><rect x="90.92" y="399.00" width="3.08" height="3.00"/><rect x="57.00" y="543.00" width="4.68" height="3.00"/><rect x="63.82" y="543.00" width="4.18" height="3.00"/><rect x="57.00" y="677.00" width="4.68" height="3.00"/><rect x="63.82" y="677.00" width="4.18" height="3.00"/><rect x="87.00" y="698.00" width="4.08" height="3.00"/><rect x="93.23" y="698.00" width="3.77" height="3.00"/><rect x="110.00" y="688.00" width="3.04" height="3.00"/><rect x="114.82" y="688.00" width="3.18" height="3.00"/><rect x="118.00" y="688.00" width="3.00" height="3.00"/><rect x="122.79" y="688.00" width="3.21" height="3.00"/><rect x="219.00" y="698.00" width="4.08" height="3.00"/><rect x="225.23" y="698.00" width="3.77" height="3.00"/><rect x="242.00" y="688.00" width="3.04" height="3.00"/><rect x="246.82" y="688.00" width="3.18" height="3.00"/><rect x="351.00" y="698.00" width="4.08" height="3.00"/><rect x="357.23" y="698.00" width="3.77" height="3.00"/><rect x="374.00" y="688.00" width="3.04" height="3.00"/><rect x="378.82" y="688.00" width="3.18" height="3.00"/><rect x="483.00" y="698.00" width="4.08" height="3.00"/><rect x="489.23" y="698.00" width="3.77" height="3.00"/><rect x="506.00" y="688.00" width="3.04" height="3.00"/><rect x="510.82" y="688.00" width="3.18" height="3.00"/><rect x="146.00" y="613.00" width="4.46" height="3.00"/><rect x="152.61" y="613.00" width="4.39" height="3.00"/></g>
</svg></body></html>
